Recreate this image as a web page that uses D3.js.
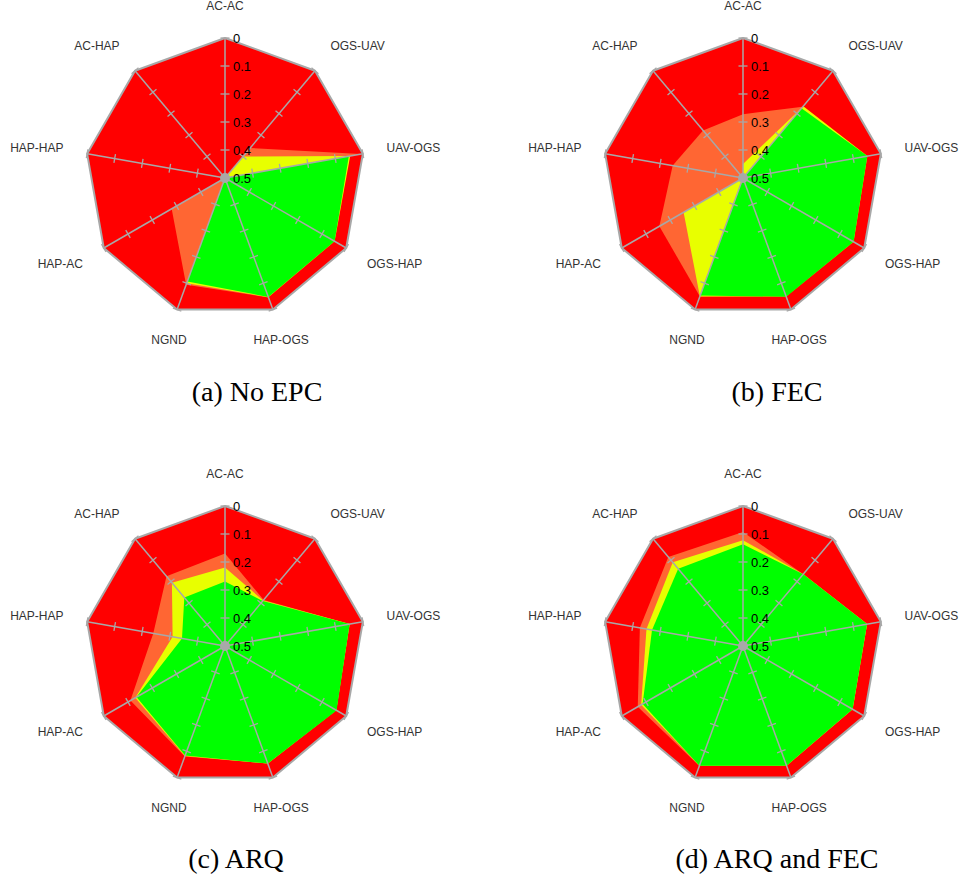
<!DOCTYPE html>
<html>
<head>
<meta charset="utf-8">
<script src="https://cdn.jsdelivr.net/npm/d3@7/dist/d3.min.js"></script>
<style>
  html, body { margin: 0; padding: 0; background: #fff; }
  svg { display: block; }
</style>
</head>
<body>
<svg id="chart" width="962" height="879"></svg>
<script>
// Spoke names, clockwise from the top
const axes = ["AC-AC", "OGS-UAV", "UAV-OGS", "OGS-HAP", "HAP-OGS", "NGND", "HAP-AC", "HAP-HAP", "AC-HAP"];
// Radial tick values (0 at the rim, 0.5 at the hub)
const tickValues = [0, 0.1, 0.2, 0.3, 0.4, 0.5];
const tickLabels = ["0", "0.1", "0.2", "0.3", "0.4", "0.5"];
// Panel captions
const captions = ["(a) No EPC", "(b) FEC", "(c) ARQ", "(d) ARQ and FEC"];

// (a) No EPC
const noEpcRed    = [0, 0, 0, 0, 0, 0, 0, 0, 0];
const noEpcOrange = [0.5, 0.36, 0.008, 0.5, 0.046, 0.094, 0.28, 0.5, 0.5];
const noEpcYellow = [0.5, 0.40, 0.046, 0.048, 0.047, 0.100, 0.5, 0.5, 0.5];
const noEpcGreen  = [0.5, 0.5, 0.051, 0.048, 0.048, 0.107, 0.5, 0.5, 0.5];

// (b) FEC
const fecRed    = [0, 0, 0, 0, 0, 0, 0, 0, 0];
const fecOrange = [0.272, 0.168, 0.052, 0.046, 0.052, 0.050, 0.155, 0.245, 0.278];
const fecYellow = [0.45, 0.165, 0.049, 0.044, 0.050, 0.050, 0.255, 0.5, 0.5];
const fecGreen  = [0.5, 0.175, 0.049, 0.044, 0.049, 0.053, 0.5, 0.5, 0.5];

// (c) ARQ
const arqRed    = [0, 0, 0, 0, 0, 0, 0, 0, 0];
const arqOrange = [0.17, 0.285, 0.048, 0.041, 0.053, 0.080, 0.11, 0.24, 0.175];
const arqYellow = [0.22, 0.288, 0.048, 0.041, 0.053, 0.082, 0.13, 0.31, 0.205];
const arqGreen  = [0.27, 0.290, 0.048, 0.040, 0.053, 0.084, 0.135, 0.344, 0.274];

// (d) ARQ and FEC
const arqFecRed    = [0, 0, 0, 0, 0, 0, 0, 0, 0];
const arqFecOrange = [0.093, 0.165, 0.050, 0.048, 0.045, 0.044, 0.066, 0.126, 0.085];
const arqFecYellow = [0.122, 0.165, 0.050, 0.048, 0.045, 0.045, 0.080, 0.150, 0.110];
const arqFecGreen  = [0.137, 0.165, 0.050, 0.048, 0.045, 0.045, 0.086, 0.170, 0.140];

const panelSeries = [
  [noEpcRed, noEpcOrange, noEpcYellow, noEpcGreen],
  [fecRed, fecOrange, fecYellow, fecGreen],
  [arqRed, arqOrange, arqYellow, arqGreen],
  [arqFecRed, arqFecOrange, arqFecYellow, arqFecGreen]
];

// ---- styling / layout ----
const layerFill = ["#ff0000", "#ff6633", "#e8ff00", "#00ff00"];
const gridColor = "#a8a8a8";
const R = 140;
const centers = [[225, 178], [743, 178], [225, 646], [743, 646]];
const captionPos = [[257, 401], [777, 401], [236, 868], [777, 868]];

const svg = d3.select("#chart");

const rScale = d3.scaleLinear().domain([0.5, 0]).range([0, R]);
const aScale = d3.scaleLinear().domain([0, axes.length]).range([0, 2 * Math.PI]);

const radial = d3.lineRadial()
  .angle((d, i) => aScale(i))
  .radius(d => rScale(d))
  .curve(d3.curveLinearClosed);

function pt(i, v) {
  const a = aScale(i), r = rScale(v);
  return [r * Math.sin(a), -r * Math.cos(a)];
}

panelSeries.forEach((series, p) => {
  const [cx, cy] = centers[p];
  const g = svg.append("g").attr("transform", `translate(${cx},${cy})`);

  // filled layers, outermost first
  g.selectAll("path.layer")
    .data(series)
    .join("path")
    .attr("class", "layer")
    .attr("d", d => radial(d))
    .attr("fill", (d, i) => layerFill[i])
    .attr("stroke", "none");

  // rim
  g.append("path")
    .attr("d", radial(axes.map(() => 0)))
    .attr("fill", "none")
    .attr("stroke", gridColor)
    .attr("stroke-width", 2)
    .attr("stroke-linejoin", "round");

  // spokes
  axes.forEach((name, i) => {
    const [x1, y1] = pt(i, 0);
    g.append("line")
      .attr("x1", 0).attr("y1", 0).attr("x2", x1).attr("y2", y1)
      .attr("stroke", gridColor).attr("stroke-width", 1.5);

    const a = aScale(i);
    const px = Math.cos(a), py = Math.sin(a); // perpendicular to spoke
    tickValues.slice(0, -1).forEach(v => {
      const [tx, ty] = pt(i, v);
      g.append("line")
        .attr("x1", tx - px * 4.5).attr("y1", ty - py * 4.5)
        .attr("x2", tx + px * 4.5).attr("y2", ty + py * 4.5)
        .attr("stroke", gridColor).attr("stroke-width", 1.3);
    });

    // spoke label
    const s = Math.sin(a), c = Math.cos(a);
    g.append("text")
      .attr("x", 164 * s)
      .attr("y", -172 * c)
      .attr("text-anchor", s > 0.5 ? "start" : (s < -0.5 ? "end" : "middle"))
      .attr("dominant-baseline", "central")
      .attr("font-family", "'Liberation Sans', Arial, sans-serif")
      .attr("font-size", 12)
      .attr("fill", "#333")
      .text(name);
  });

  // hub
  g.append("circle").attr("r", 5).attr("fill", gridColor);

  // radial tick labels along the top spoke
  g.selectAll("text.tick")
    .data(tickValues)
    .join("text")
    .attr("class", "tick")
    .attr("x", 8)
    .attr("y", d => -rScale(d))
    .attr("dominant-baseline", "central")
    .attr("font-family", "'Liberation Sans', Arial, sans-serif")
    .attr("font-size", 13)
    .attr("fill", "#000")
    .text((d, i) => tickLabels[i]);

  // caption
  svg.append("text")
    .attr("x", captionPos[p][0])
    .attr("y", captionPos[p][1])
    .attr("text-anchor", "middle")
    .attr("font-family", "'Liberation Serif', 'Times New Roman', serif")
    .attr("font-size", 28)
    .attr("fill", "#000")
    .text(captions[p]);
});
</script>
</body>
</html>
